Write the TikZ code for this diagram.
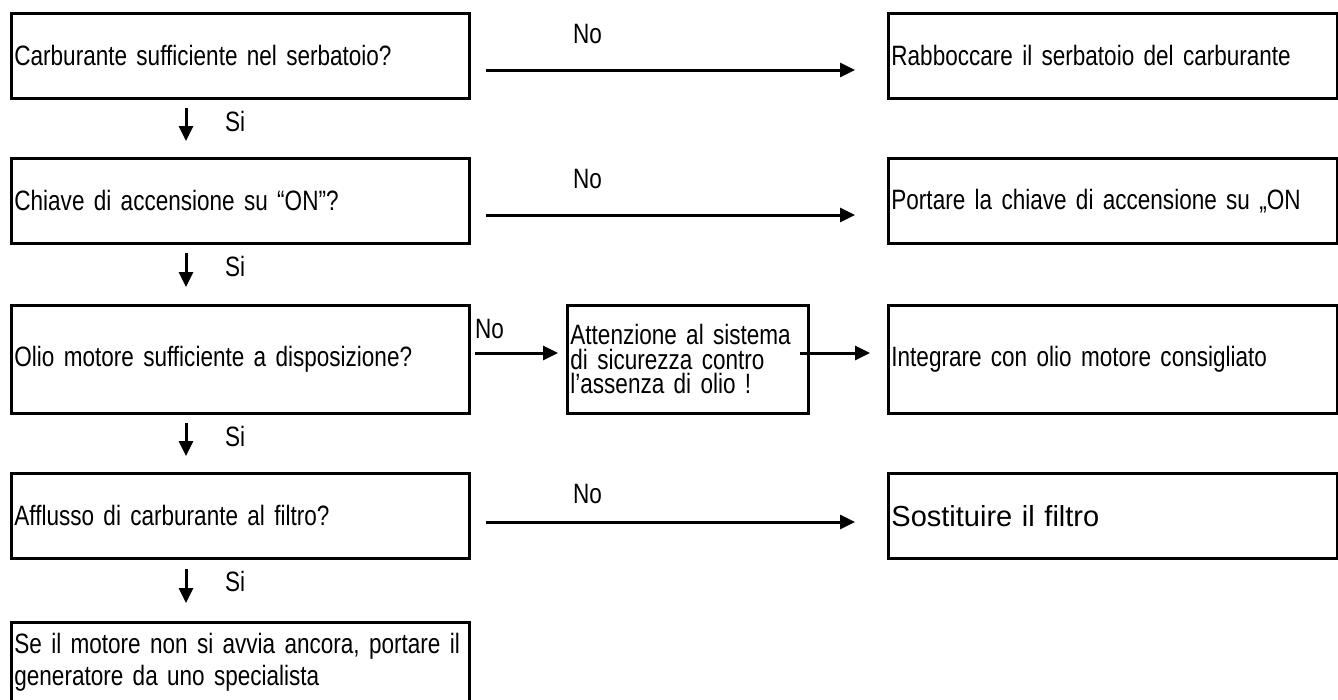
\documentclass[tikz,border=0pt]{standalone}
\usepackage{fontspec}
\setmainfont{Liberation Sans}
\newfontfamily\narrowfont[FakeStretch=0.805]{Liberation Sans}
\newfontfamily\widefont{Liberation Sans}
\newcommand\narrowtext[2]{\narrowfont\fontsize{#1}{#2}\selectfont\spaceskip=5.6pt plus 2pt minus 1pt\relax}
\usetikzlibrary{arrows.meta}
\begin{document}
\lineskiplimit=-100pt
\begin{tikzpicture}[x=1pt,y=-1pt,
  box/.style={draw, line width=2.8pt, rectangle, anchor=north west, inner xsep=3pt, inner ysep=0pt, align=left,
    font={\narrowtext{28}{32}}},
  flow/.style={line width=3pt, -{Triangle[length=15pt,width=14pt]}},
  lbl/.style={anchor=base west, inner sep=0pt, font={\narrowtext{28}{32}}}]
\useasboundingbox (0,0) rectangle (1338,699);
% left column
\node[box, text width=452pt, minimum height=85pt] (b1) at (10,12) {\mbox{Carburante sufficiente nel serbatoio?}};
\node[box, text width=452pt, minimum height=85pt] (b2) at (10,157) {\mbox{Chiave di accensione su “ON”?}};
\node[box, text width=452pt, minimum height=108pt] (b3) at (10,304) {\mbox{Olio motore sufficiente a disposizione?}};
\node[box, text width=452pt, minimum height=85pt] (b4) at (10,472) {\mbox{Afflusso di carburante al filtro?}};
\node[box, text width=452pt, inner ysep=11pt, text depth=60pt] (b5) at (10,621) {\mbox{Se il motore non si avvia ancora, portare il}\\\mbox{generatore da uno specialista}};
% middle
\node[box, text width=235pt, minimum height=108pt, font={\narrowtext{28}{24.5}}] (m3) at (566,304) {\mbox{Attenzione al sistema}\\\mbox{di sicurezza contro}\\\mbox{l’assenza di olio !}};
% right column
\node[box, text width=443pt, minimum height=85pt] (r1) at (887,12) {\mbox{Rabboccare il serbatoio del carburante}};
\node[box, text width=443pt, minimum height=85pt] (r2) at (887,157) {\mbox{Portare la chiave di accensione su „ON}};
\node[box, text width=443pt, minimum height=108pt] (r3) at (887,304) {\mbox{Integrare con olio motore consigliato}};
\node[box, text width=443pt, minimum height=85pt, font={\widefont\fontsize{29}{32}\selectfont}] (r4) at (887,472) {Sostituire il filtro};
% No arrows
\draw[flow] ([shift={(15,58)}]b1.north east) -- ([shift={(-32,58)}]r1.north west);
\node[lbl] (no1) at ([shift={(102,31)}]b1.north east) {No};
\draw[flow] ([shift={(15,58)}]b2.north east) -- ([shift={(-32,58)}]r2.north west);
\node[lbl] (no2) at ([shift={(102,31)}]b2.north east) {No};
\draw[flow] ([shift={(4,49)}]b3.north east) -- ([shift={(-8,49)}]m3.north west);
\node[lbl] (no3) at ([shift={(4,34)}]b3.north east) {No};
\draw[flow] ([shift={(-10,49)}]m3.north east) -- ([shift={(-17,49)}]r3.north west);
\draw[flow] ([shift={(15,50)}]b4.north east) -- ([shift={(-32,50)}]r4.north west);
\node[lbl] (no4) at ([shift={(102,31)}]b4.north east) {No};
% Si arrows
\draw[flow] ([shift={(176,8)}]b1.south west) -- ([shift={(176,-16)}]b2.north west);
\node[lbl] (si1) at ([shift={(215,32)}]b1.south west) {Si};
\draw[flow] ([shift={(176,8)}]b2.south west) -- ([shift={(176,-17)}]b3.north west);
\node[lbl] (si2) at ([shift={(215,32)}]b2.south west) {Si};
\draw[flow] ([shift={(176,8)}]b3.south west) -- ([shift={(176,-16)}]b4.north west);
\node[lbl] (si3) at ([shift={(215,32)}]b3.south west) {Si};
\draw[flow] ([shift={(176,9)}]b4.south west) -- ([shift={(176,-18)}]b5.north west);
\node[lbl] (si4) at ([shift={(215,32)}]b4.south west) {Si};
\end{tikzpicture}
\end{document}
